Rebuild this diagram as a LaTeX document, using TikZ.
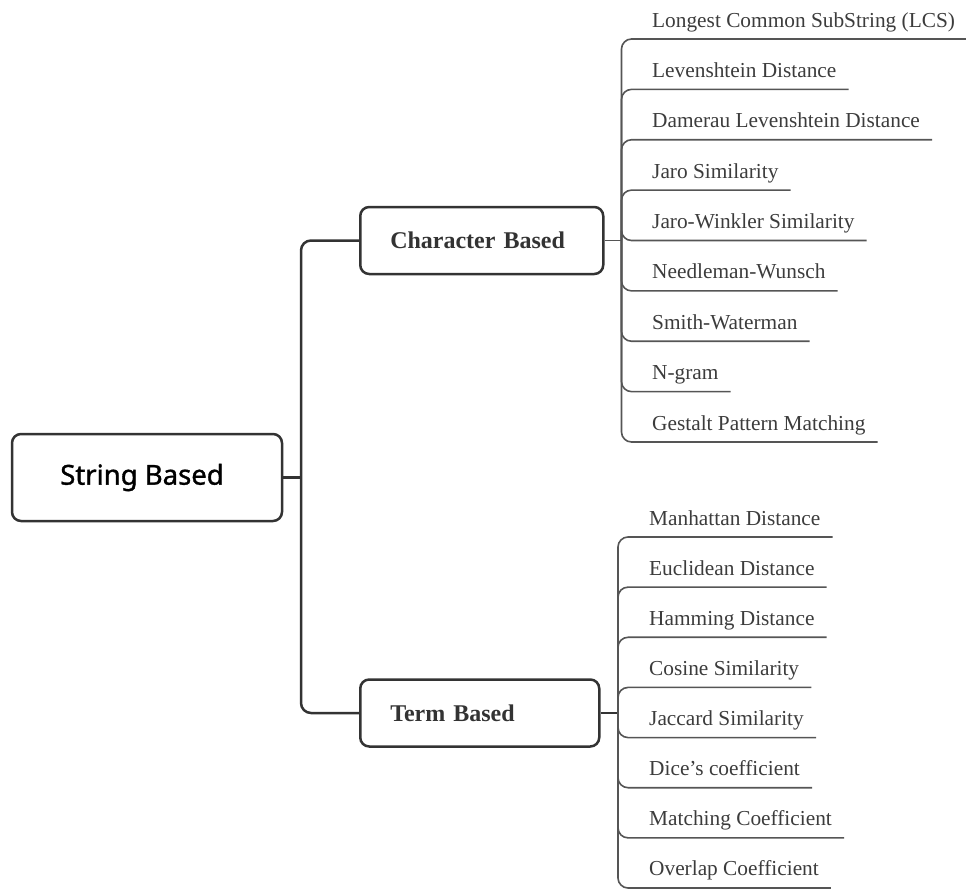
\documentclass[tikz,border=0pt]{standalone}
\usepackage{fontspec}
\setmainfont{Liberation Serif}
\newfontfamily\rootfont{Noto Sans}[FakeBold=1.2]
\usetikzlibrary{calc}
\definecolor{ink}{HTML}{333333}
\definecolor{leafink}{HTML}{3C3C3C}
\definecolor{twigcol}{HTML}{555555}

\begin{document}
\begin{tikzpicture}[x=1pt,y=-1pt,
  mainbox/.style={draw=ink, line width=2.5pt, rounded corners=9pt, fill=white},
  branchbox/.style={mainbox, minimum height=67pt, inner xsep=30pt, align=left,
    font=\fontsize{24}{28}\selectfont\bfseries, text=ink, anchor=west},
  leaf/.style={anchor=base west, inner sep=0pt,
    font=\fontsize{21.33}{24}\selectfont, text=leafink},
  twig/.style={draw=twigcol, line width=1.6pt, rounded corners=10pt},
  trunk/.style={draw=ink, line width=2.5pt, rounded corners=10pt},
]
\useasboundingbox (0,0) rectangle (966,889);

% root and the two branch boxes
\node[mainbox, minimum width=270pt, minimum height=87pt,
      font=\rootfont\fontsize{27.5}{32}\selectfont, text=black] (root) at (147,477.5)
      {String Based\hspace*{10pt}};
\node[branchbox, text width=183pt] (char) at (359,240.5) {Character Based};
\node[branchbox, text width=179pt] (term) at (359,713) {Term Based};

% trunk joining the root to both branches
\coordinate (spine) at (301,477.5);
\draw[trunk] (root.east) -- (spine);
\draw[trunk] (char.west) -| (spine) |- (term.west);

% character based measures
\coordinate (cjoint) at (621.5,240.5);
\draw[twig] (char.east) -- (cjoint);
\foreach \t [count=\i from 0] in {Longest Common SubString (LCS), Levenshtein Distance,
    Damerau Levenshtein Distance, Jaro Similarity, Jaro-Winkler Similarity,
    Needleman-Wunsch, Smith-Waterman, N-gram, Gestalt Pattern Matching} {
  \node[leaf] (c\i) at (652, 27+\i*50.375) {\t};
  \draw[twig] (cjoint) |- ($(c\i.base east)+(12,12)$);
}

% term based measures
\coordinate (tjoint) at (618,713);
\draw[trunk, rounded corners=0pt] (term.east) -- (tjoint);
\foreach \t [count=\i from 0] in {Manhattan Distance, Euclidean Distance,
    Hamming Distance, Cosine Similarity, Jaccard Similarity, Dice’s coefficient,
    Matching Coefficient, Overlap Coefficient} {
  \node[leaf] (t\i) at (649, 525+\i*50.14) {\t};
  \draw[twig] (tjoint) |- ($(t\i.base east)+(12,12)$);
}
\end{tikzpicture}
\end{document}
